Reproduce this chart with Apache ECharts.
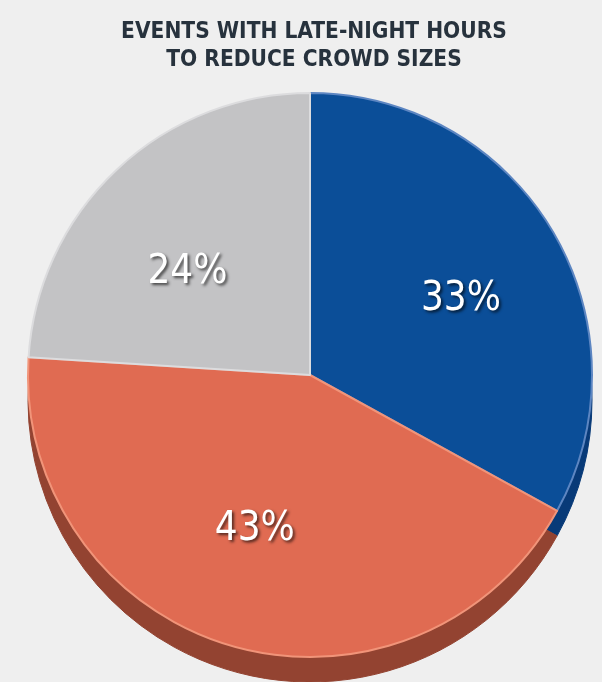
<!DOCTYPE html>
<html>
<head>
<meta charset="utf-8">
<script src="https://cdn.jsdelivr.net/npm/echarts@6/dist/echarts.min.js"></script>
<style>
html,body{margin:0;padding:0;background:#efefef;}
#chart{width:602px;height:682px;}
</style>
</head>
<body>
<div id="chart"></div>
<script>
var titleLines = ["EVENTS WITH LATE-NIGHT HOURS", "TO REDUCE CROWD SIZES"];
var categories = ["Blue", "Orange", "Gray"];
var values = [33, 43, 24];

var topColors = ["#0b4e98", "#e06b52", "#c3c3c5"];
var edgeColors = ["#5d86c2", "#f19479", "#dcdcde"];
var depthColors = ["#083a78", "#934331", "#8e8e90"];
var labelShift = [[27, -2], [-15, 16], [-24, 3]];

var topData = categories.map(function (c, i) {
  return {
    name: c, value: values[i],
    itemStyle: { color: topColors[i], borderColor: edgeColors[i], borderWidth: 2 }
  };
});
var depthData = categories.map(function (c, i) {
  return { name: c, value: values[i], itemStyle: { color: depthColors[i], borderColor: depthColors[i], borderWidth: 1 } };
});

var fontStack = '"Liberation Sans Narrow", "DejaVu Sans Condensed", sans-serif';
var chart = echarts.init(document.getElementById('chart'), null, { renderer: 'canvas' });
chart.setOption({
  backgroundColor: '#efefef',
  animation: false,
  title: {
    text: titleLines.join('\n'),
    left: 309,
    textAlign: 'center',
    top: 13,
    textStyle: {
      fontFamily: fontStack,
      fontWeight: 'bold',
      fontSize: 22.5,
      lineHeight: 28,
      color: '#27323d'
    }
  },
  series: [
    {
      type: 'pie',
      silent: true,
      z: 1,
      center: [310, 400],
      radius: 282,
      startAngle: 90,
      label: { show: false },
      labelLine: { show: false },
      data: depthData
    },
    {
      type: 'pie',
      silent: true,
      z: 2,
      center: [310, 375],
      radius: 282,
      startAngle: 90,
      label: {
        show: true,
        position: 'inside',
        formatter: '{c}%',
        fontFamily: fontStack,
        fontSize: 40,
        color: '#ffffff',
        textShadowColor: 'rgba(0,0,0,0.65)',
        textShadowBlur: 3,
        textShadowOffsetX: 2,
        textShadowOffsetY: 2
      },
      labelLayout: function (p) {
        var s = labelShift[p.dataIndex];
        return { dx: s[0], dy: s[1] };
      },
      data: topData
    }
  ]
});
</script>
</body>
</html>
